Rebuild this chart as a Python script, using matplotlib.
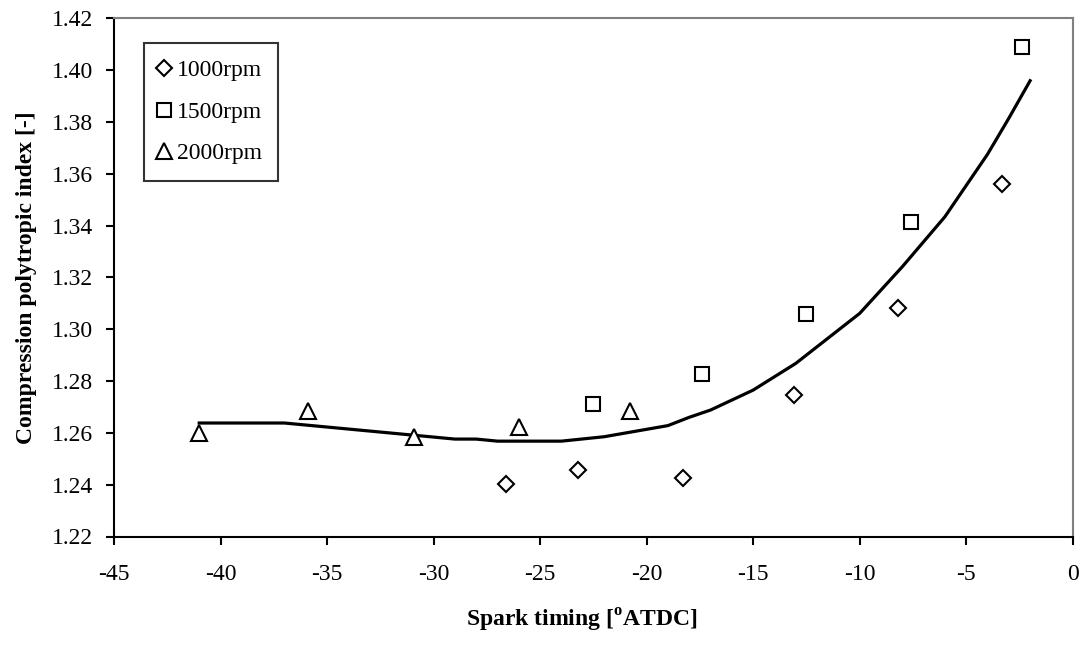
import numpy as np
import matplotlib
matplotlib.use("Agg")
import matplotlib.pyplot as plt

plt.rcParams['font.family'] = ['Liberation Serif', 'DejaVu Serif']
plt.rcParams['mathtext.fontset'] = 'custom'
plt.rcParams['mathtext.rm'] = 'Liberation Serif'
plt.rcParams['mathtext.bf'] = 'Liberation Serif:bold'
plt.rcParams['axes.unicode_minus'] = False

# measured points
x_1000 = [-26.6, -23.2, -18.3, -13.1, -8.2, -3.3]
y_1000 = [1.2401, 1.2457, 1.2425, 1.2746, 1.3081, 1.3559]

x_1500 = [-22.5, -17.4, -12.5, -7.6, -2.4]
y_1500 = [1.2710, 1.2826, 1.3058, 1.3413, 1.4090]

x_2000 = [-41.0, -35.9, -30.9, -26.0, -20.8]
y_2000 = [1.2598, 1.2684, 1.2583, 1.2624, 1.2684]

# fitted curve
x_fit = [-41, -37, -33, -29, -28, -27, -24, -22, -19, -18, -17, -15,
         -13, -10, -8, -6, -4, -3, -2]
y_fit = [1.2638, 1.2638, 1.2607, 1.2576, 1.2576, 1.2568, 1.2568, 1.2585,
         1.2628, 1.2660, 1.2688, 1.2765, 1.2868, 1.3061, 1.3241, 1.3434,
         1.3675, 1.3814, 1.3959]

fig = plt.figure(figsize=(10.83, 6.46), dpi=100)
ax = fig.add_axes([114 / 1083, 1 - 536.5 / 646, 958.7 / 1083, 518.2 / 646])

ax.plot(x_fit, y_fit, color='black', lw=2.3, zorder=2)
ax.plot(x_1000, y_1000, ls='none', marker='D', ms=8.6, mfc='white',
        mec='black', mew=1.5, label='1000rpm', zorder=3)
ax.plot(x_1500, y_1500, ls='none', marker='s', ms=10.5, mfc='white',
        mec='black', mew=1.5, label='1500rpm', zorder=3)
ax.plot(x_2000, y_2000, ls='none', marker='^', ms=12, mfc='white',
        mec='black', mew=1.5, label='2000rpm', zorder=3)

ax.set_xlim(-45, 0)
ax.set_ylim(1.22, 1.42)
ax.set_xticks(np.arange(-45, 1, 5))
ax.set_yticks(np.arange(1.22, 1.4201, 0.02))
ax.set_yticklabels([f'{v:.2f}' for v in np.arange(1.22, 1.4201, 0.02)])

for s in ['left', 'bottom']:
    ax.spines[s].set_color('black')
    ax.spines[s].set_linewidth(1.5)
for s in ['top', 'right']:
    ax.spines[s].set_color('#808080')
    ax.spines[s].set_linewidth(1.5)

ax.tick_params(axis='both', direction='out', length=6, width=1.5,
               labelsize=17, colors='black')
ax.tick_params(axis='x', pad=14)
ax.tick_params(axis='y', pad=9)

ax.set_xlabel(r'Spark timing [$^{\mathbf{o}}$ATDC]', fontsize=17,
              fontweight='bold')
ax.xaxis.set_label_coords(0.488, -0.135)
ax.set_ylabel('Compression polytropic index [-]', fontsize=17,
              fontweight='bold')
ax.yaxis.set_label_coords(-0.080, 0.5)

leg = ax.legend(loc='upper left', bbox_to_anchor=(0.031, 0.952),
                borderaxespad=0, fontsize=17, frameon=True, fancybox=False,
                edgecolor='black', handlelength=0.3, handletextpad=0.4,
                labelspacing=0.85, borderpad=0.7, numpoints=1)
leg.get_frame().set_linewidth(1.5)

fig.savefig('out.png', dpi=100)
